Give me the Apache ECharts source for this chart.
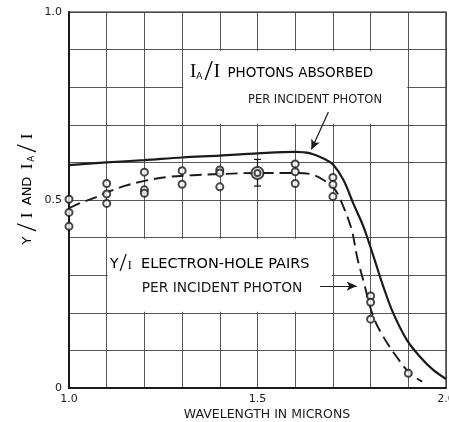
<!DOCTYPE html>
<html><head><meta charset="utf-8">
<script src="https://cdn.jsdelivr.net/npm/echarts@6/dist/echarts.min.js"></script>
<style>html,body{margin:0;padding:0;background:#fff}#c{width:449px;height:422px}</style>
</head><body><div id="c"></div>
<script>
// ---- data ----
const absorbedWl  = [1.0, 1.1, 1.2, 1.3, 1.4, 1.5, 1.6, 1.64, 1.68, 1.70, 1.728, 1.754, 1.781, 1.807, 1.834, 1.860, 1.896, 1.931, 1.966, 2.0];
const absorbedVal = [0.593, 0.600, 0.606, 0.613, 0.618, 0.624, 0.628, 0.624, 0.608, 0.595, 0.553, 0.491, 0.429, 0.352, 0.269, 0.199, 0.128, 0.083, 0.048, 0.024];

const pairsWl  = [1.0, 1.03, 1.065, 1.1, 1.15, 1.2, 1.26, 1.33, 1.4, 1.5, 1.6, 1.64, 1.675, 1.706, 1.728, 1.75, 1.765, 1.781, 1.807, 1.834, 1.869, 1.904, 1.937];
const pairsVal = [0.478, 0.492, 0.505, 0.520, 0.538, 0.551, 0.561, 0.566, 0.569, 0.572, 0.572, 0.569, 0.553, 0.527, 0.482, 0.420, 0.345, 0.285, 0.190, 0.136, 0.083, 0.039, 0.017];

const measWl  = [1.0, 1.0, 1.0, 1.1, 1.1, 1.1, 1.2, 1.2, 1.2, 1.3, 1.3, 1.4, 1.4, 1.4, 1.6, 1.6, 1.6, 1.7, 1.7, 1.7, 1.8, 1.8, 1.8, 1.9];
const measVal = [0.502, 0.467, 0.430, 0.544, 0.516, 0.491, 0.574, 0.527, 0.518, 0.578, 0.542, 0.580, 0.572, 0.535, 0.596, 0.575, 0.544, 0.560, 0.541, 0.509, 0.245, 0.228, 0.183, 0.039];

const avgWl = [1.5];
const avgVal = [0.572];
const avgLow = [0.537];
const avgHigh = [0.608];

const xTickValues = [1.0, 1.5, 2.0];
const xTickText = ['1.0', '1.5', '2.0'];
const yTickValues = [0, 0.5, 1.0];
const yTickText = ['0', '0.5', '1.0'];

// ---- build ----
const zip = (a, b) => a.map((v, i) => [v, b[i]]);
const tickFmt = (vals, txt) => v => {
  const i = vals.findIndex(t => Math.abs(t - v) < 1e-6);
  return i >= 0 ? txt[i] : '';
};
const SANS = '"DejaVu Sans", sans-serif';
const SERIF = '"Liberation Serif", serif';
const INK = '#1a1a1a';

const chart = echarts.init(document.getElementById('c'), null, {renderer: 'canvas'});
chart.setOption({
  animation: false,
  backgroundColor: '#fff',
  grid: {left: 69, right: 3, top: 12, bottom: 34, show: true, borderColor: INK, borderWidth: 1.2,
         containLabel: false, outerBoundsMode: 'none'},
  xAxis: {
    type: 'value', min: 1.0, max: 2.0, interval: 0.1,
    axisLine: {show: true, lineStyle: {color: INK, width: 2}},
    axisTick: {show: false},
    axisLabel: {formatter: tickFmt(xTickValues, xTickText), color: INK, fontFamily: SANS, fontSize: 11, margin: 6, showMaxLabel: true, showMinLabel: true, hideOverlap: false},
    splitLine: {show: true, lineStyle: {color: '#444', width: 0.9}}
  },
  yAxis: {
    type: 'value', min: 0, max: 1.0, interval: 0.1,
    axisLine: {show: true, lineStyle: {color: INK, width: 2}},
    axisTick: {show: false},
    axisLabel: {formatter: tickFmt(yTickValues, yTickText), color: INK, fontFamily: SANS, fontSize: 11, margin: 7, showMaxLabel: true, showMinLabel: true},
    splitLine: {show: true, lineStyle: {color: '#444', width: 0.9}}
  },
  series: [
    {
      name: 'IA/I photons absorbed per incident photon',
      type: 'line', data: zip(absorbedWl, absorbedVal),
      smooth: 0.35, showSymbol: false, symbol: 'none',
      lineStyle: {color: INK, width: 2.2}, z: 3, silent: true,
      markArea: {
        silent: true,
        itemStyle: {color: '#fff', opacity: 1},
        label: {show: false},
        data: [
          [{coord: [1.303, 0.703]}, {coord: [1.897, 0.897]}],
          [{coord: [1.103, 0.203]}, {coord: [1.697, 0.397]}]
        ]
      },
      markLine: {
        silent: true, symbol: ['none', 'arrow'], symbolSize: [7, 10],
        label: {show: false},
        lineStyle: {color: INK, width: 1.2, type: 'solid'},
        data: [[{coord: [1.688, 0.734]}, {coord: [1.643, 0.634]}]]
      }
    },
    {
      name: 'Y/I electron-hole pairs per incident photon',
      type: 'line', data: zip(pairsWl, pairsVal),
      smooth: 0.35, showSymbol: false, symbol: 'none',
      lineStyle: {color: INK, width: 1.9, type: [12, 6]}, z: 3, silent: true,
      markLine: {
        silent: true, symbol: ['none', 'arrow'], symbolSize: [7, 10],
        label: {show: false},
        lineStyle: {color: INK, width: 1.2, type: 'solid'},
        data: [[{coord: [1.666, 0.271]}, {coord: [1.763, 0.271]}]]
      }
    },
    {
      name: 'measured', type: 'scatter', data: zip(measWl, measVal),
      symbol: 'emptyCircle', symbolSize: 7,
      itemStyle: {color: INK, borderColor: INK, borderWidth: 1.2},
      z: 5, silent: true
    },
    {
      name: 'error', type: 'custom', z: 4, silent: true,
      data: avgWl.map((w, i) => [w, avgLow[i], avgHigh[i]]),
      encode: {x: 0, y: [1, 2]},
      renderItem: (params, api) => {
        const x = api.value(0);
        const a = api.coord([x, api.value(2)]);
        const b = api.coord([x, api.value(1)]);
        const w = 3.5;
        const st = {stroke: INK, lineWidth: 1.3};
        return {type: 'group', children: [
          {type: 'line', shape: {x1: a[0], y1: a[1], x2: b[0], y2: b[1]}, style: st},
          {type: 'line', shape: {x1: a[0] - w, y1: a[1], x2: a[0] + w, y2: a[1]}, style: st},
          {type: 'line', shape: {x1: b[0] - w, y1: b[1], x2: b[0] + w, y2: b[1]}, style: st}
        ]};
      }
    },
    {
      name: 'average outer', type: 'scatter', data: zip(avgWl, avgVal),
      symbol: 'emptyCircle', symbolSize: 12,
      itemStyle: {color: INK, borderColor: INK, borderWidth: 1.2}, z: 6, silent: true
    },
    {
      name: 'average inner', type: 'scatter', data: zip(avgWl, avgVal),
      symbol: 'emptyCircle', symbolSize: 6,
      itemStyle: {color: INK, borderColor: INK, borderWidth: 1}, z: 7, silent: true
    }
  ],
  graphic: [
    {type: 'text', x: 190, y: 72, z: 100, style: {
      text: '{i|I}{sub|A}{sl|/}{i|I} {t|PHOTONS ABSORBED}',
      align: 'left', verticalAlign: 'middle', textAlign: 'left', textVerticalAlign: 'middle',
      rich: {
        i: {fontFamily: SERIF, fontSize: 19, color: INK, verticalAlign: 'middle'},
        sub: {fontFamily: SANS, fontSize: 9, color: INK, verticalAlign: 'middle', padding: [9, 1, 0, 0]},
        sl: {fontFamily: SERIF, fontSize: 30, color: INK, verticalAlign: 'middle', padding: [0, 1, 0, 1]},
        t: {fontFamily: SANS, fontSize: 13.5, color: INK, verticalAlign: 'middle', padding: [2, 0, 0, 4]}
      }
    }},
    {type: 'text', x: 315, y: 100, z: 100, style: {
      text: 'PER INCIDENT PHOTON', fill: INK, font: '11.5px ' + SANS,
      align: 'center', verticalAlign: 'middle', textAlign: 'center', textVerticalAlign: 'middle'
    }},
    {type: 'text', x: 110, y: 264, z: 100, style: {
      text: '{s|Y}{sl|/}{i|I} {t|ELECTRON-HOLE PAIRS}',
      align: 'left', verticalAlign: 'middle', textAlign: 'left', textVerticalAlign: 'middle',
      rich: {
        s: {fontFamily: SANS, fontSize: 14, color: INK, verticalAlign: 'middle'},
        sl: {fontFamily: SERIF, fontSize: 26, color: INK, verticalAlign: 'middle', padding: [0, 1, 0, 1]},
        i: {fontFamily: SERIF, fontSize: 12, color: INK, verticalAlign: 'middle', padding: [3, 0, 0, 0]},
        t: {fontFamily: SANS, fontSize: 14.5, color: INK, verticalAlign: 'middle', padding: [0, 0, 0, 6]}
      }
    }},
    {type: 'text', x: 222, y: 288, z: 100, style: {
      text: 'PER INCIDENT PHOTON', fill: INK, font: '13.8px ' + SANS,
      align: 'center', verticalAlign: 'middle', textAlign: 'center', textVerticalAlign: 'middle'
    }},
    {type: 'text', x: 267, y: 415, z: 100, style: {
      text: 'WAVELENGTH IN MICRONS', fill: INK, font: '12.5px ' + SANS,
      align: 'center', verticalAlign: 'middle', textAlign: 'center', textVerticalAlign: 'middle'
    }},
    {type: 'text', x: 28, y: 189, rotation: Math.PI / 2, z: 100, style: {
      text: '{s|Y}{sl|/}{i|I} {s|AND} {i|I}{sub|A}{sl|/}{i|I}',
      align: 'center', verticalAlign: 'middle', textAlign: 'center', textVerticalAlign: 'middle',
      rich: {
        s: {fontFamily: SANS, fontSize: 13, color: INK, verticalAlign: 'middle', padding: [0, 2, 0, 2]},
        sl: {fontFamily: SERIF, fontSize: 30, color: INK, verticalAlign: 'middle', padding: [0, 3, 0, 3]},
        i: {fontFamily: SERIF, fontSize: 17, color: INK, verticalAlign: 'middle', padding: [0, 2, 0, 2]},
        sub: {fontFamily: SANS, fontSize: 9, color: INK, verticalAlign: 'middle', padding: [8, 0, 0, 0]}
      }
    }}
  ]
});
</script>
</body></html>
